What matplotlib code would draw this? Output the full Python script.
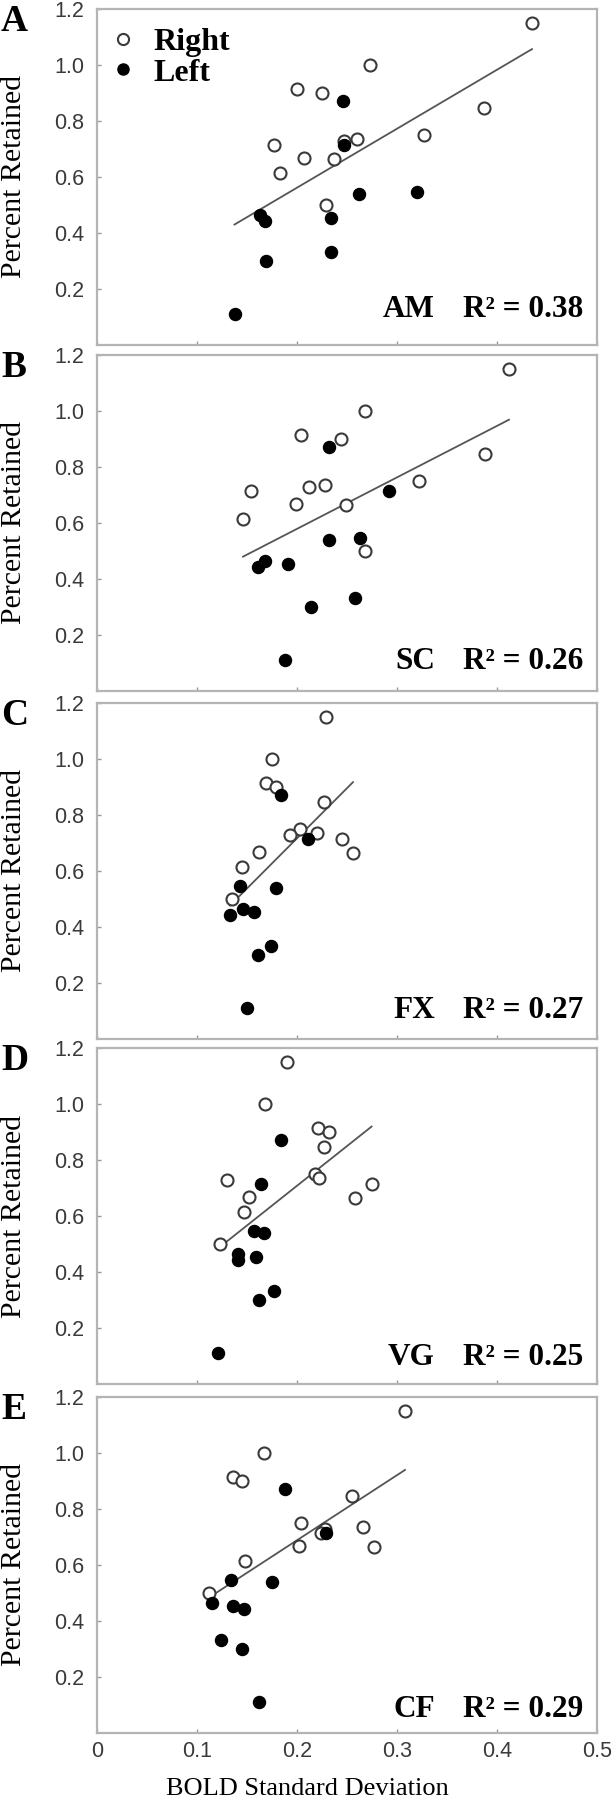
import numpy as np
import matplotlib
matplotlib.use("Agg")
import matplotlib.pyplot as plt
from matplotlib.lines import Line2D

# ---------------- data ----------------
panel_letters = ["A", "B", "C", "D", "E"]
region_names = ["AM", "SC", "FX", "VG", "CF"]
r_squared = [0.38, 0.26, 0.27, 0.25, 0.29]

# Percent retained (same subjects in every panel)
y_right = [1.15, 1.00, 0.915, 0.90, 0.848, 0.75, 0.735, 0.73, 0.715, 0.667, 0.665, 0.615, 0.50]
y_left = [0.87, 0.713, 0.545, 0.538, 0.463, 0.455, 0.443, 0.333, 0.300, 0.110]

# BOLD standard deviation per region
x_right_AM = [0.435, 0.273, 0.200, 0.225, 0.387, 0.327, 0.260, 0.247, 0.177, 0.207, 0.237, 0.183, 0.229]
x_left_AM = [0.246, 0.247, 0.320, 0.262, 0.163, 0.234, 0.168, 0.234, 0.169, 0.1375]

x_right_SC = [0.412, 0.268, 0.204, 0.244, 0.3875, 0.322, 0.228, 0.212, 0.154, 0.199, 0.249, 0.146, 0.268]
x_left_SC = [0.232, 0.292, 0.263, 0.232, 0.168, 0.191, 0.161, 0.258, 0.214, 0.188]

x_right_FX = [0.2285, 0.175, 0.169, 0.179, 0.2266, 0.203, 0.220, 0.1926, 0.245, 0.162, 0.256, 0.145, 0.135]
x_left_FX = [0.1836, 0.211, 0.143, 0.179, 0.146, 0.157, 0.133, 0.174, 0.161, 0.150]

x_right_VG = [0.1895, 0.168, 0.2207, 0.2316, 0.2266, 0.218, 0.222, 0.130, 0.2746, 0.152, 0.258, 0.147, 0.123]
x_left_VG = [0.184, 0.164, 0.157, 0.167, 0.141, 0.159, 0.1406, 0.1766, 0.162, 0.121]

x_right_CF = [0.308, 0.1668, 0.136, 0.145, 0.2547, 0.204, 0.2656, 0.228, 0.224, 0.202, 0.277, 0.148, 0.112]
x_left_CF = [0.188, 0.2285, 0.1336, 0.175, 0.115, 0.136, 0.1465, 0.124, 0.1445, 0.162]

x_right_all = [x_right_AM, x_right_SC, x_right_FX, x_right_VG, x_right_CF]
x_left_all = [x_left_AM, x_left_SC, x_left_FX, x_left_VG, x_left_CF]

y_ticks = [0.2, 0.4, 0.6, 0.8, 1.0, 1.2]
y_tick_labels = ["0.2", "0.4", "0.6", "0.8", "1.0", "1.2"]
x_ticks = [0, 0.1, 0.2, 0.3, 0.4, 0.5]
x_tick_labels = ["0", "0.1", "0.2", "0.3", "0.4", "0.5"]

# ---------------- layout ----------------
FW, FH = 614, 1800
fig = plt.figure(figsize=(FW / 100, FH / 100), dpi=100)
fig.patch.set_facecolor("white")

SERIF = "Liberation Serif"
SANS = "Liberation Sans"
tops = [9, 355, 703, 1048, 1397]
AX_L, AX_W, AX_H = 97, 500, 336
annot_offsets = [28, 22, 21, 19, 16]

for i in range(5):
    top = tops[i]
    ax = fig.add_axes([AX_L / FW, 1 - (top + AX_H) / FH, AX_W / FW, AX_H / FH])
    ax.set_xlim(0, 0.5)
    ax.set_ylim(0, 1.2)
    for sp in ax.spines.values():
        sp.set_color("#b4b4b4")
        sp.set_linewidth(1.6)

    xr = np.array(x_right_all[i])
    xl = np.array(x_left_all[i])
    yr = np.array(y_right)
    yl = np.array(y_left)

    # regression line on pooled data
    xa = np.concatenate([xr, xl])
    ya = np.concatenate([yr, yl])
    slope, icpt = np.polyfit(xa, ya, 1)
    xx = np.array([xa.min(), xa.max()])
    ax.plot(xx, slope * xx + icpt, color="#555555", lw=1.3, zorder=2)

    ax.scatter(xr, yr, s=75, facecolor="white", edgecolor="#3a3a3a", linewidth=1.5, zorder=3)
    ax.scatter(xl, yl, s=75, facecolor="black", edgecolor="black", linewidth=1.0, zorder=4)

    ax.set_yticks(y_ticks)
    ax.set_yticklabels(y_tick_labels, fontfamily=SANS)
    ax.set_xticks(x_ticks)
    if i == 4:
        ax.set_xticklabels(x_tick_labels, fontfamily=SANS)
    else:
        ax.set_xticklabels([])
    ax.tick_params(axis="both", direction="in", length=3, width=1, color="#999999",
                   labelcolor="#3a3a3a", labelsize=15.5)
    ax.tick_params(axis="y", pad=9)
    ax.tick_params(axis="x", pad=6)

    yb = annot_offsets[i] / AX_H
    ax.text(0.676, yb, region_names[i], transform=ax.transAxes,
            ha="right", va="baseline", fontsize=22.5, fontweight="bold", fontfamily=SERIF)
    ax.text(0.972, yb, "R\u00b2 = %.2f" % r_squared[i], transform=ax.transAxes,
            ha="right", va="baseline", fontsize=22.5, fontweight="bold", fontfamily=SERIF)

    # y label and panel letter
    fig.text(14 / FW, 1 - (top + AX_H / 2) / FH, "Percent Retained", rotation=90,
             ha="center", va="center", fontsize=21.5, fontfamily=SERIF)
    fig.text(1 / FW, 1 - (top + 22) / FH, panel_letters[i], ha="left", va="baseline",
             fontsize=27, fontweight="bold", fontfamily=SERIF)

    if i == 0:
        handles = [
            Line2D([], [], ls="none", marker="o", markersize=8, markerfacecolor="white",
                   markeredgecolor="#3a3a3a", markeredgewidth=1.5),
            Line2D([], [], ls="none", marker="o", markersize=8, markerfacecolor="black",
                   markeredgecolor="black"),
        ]
        ax.legend(handles, ["Right", "Left"], loc="upper left", bbox_to_anchor=(-0.025, 1.012),
                  frameon=False, handlelength=1.0, handletextpad=0.45, labelspacing=0.05,
                  borderpad=0.2, prop={"family": SERIF, "weight": "bold", "size": 23})

fig.text(0.5, 1 - 1795 / FH, "BOLD Standard Deviation", ha="center", va="baseline",
         fontsize=19, fontfamily=SERIF)

fig.savefig("out.png", dpi=100, facecolor="white")
